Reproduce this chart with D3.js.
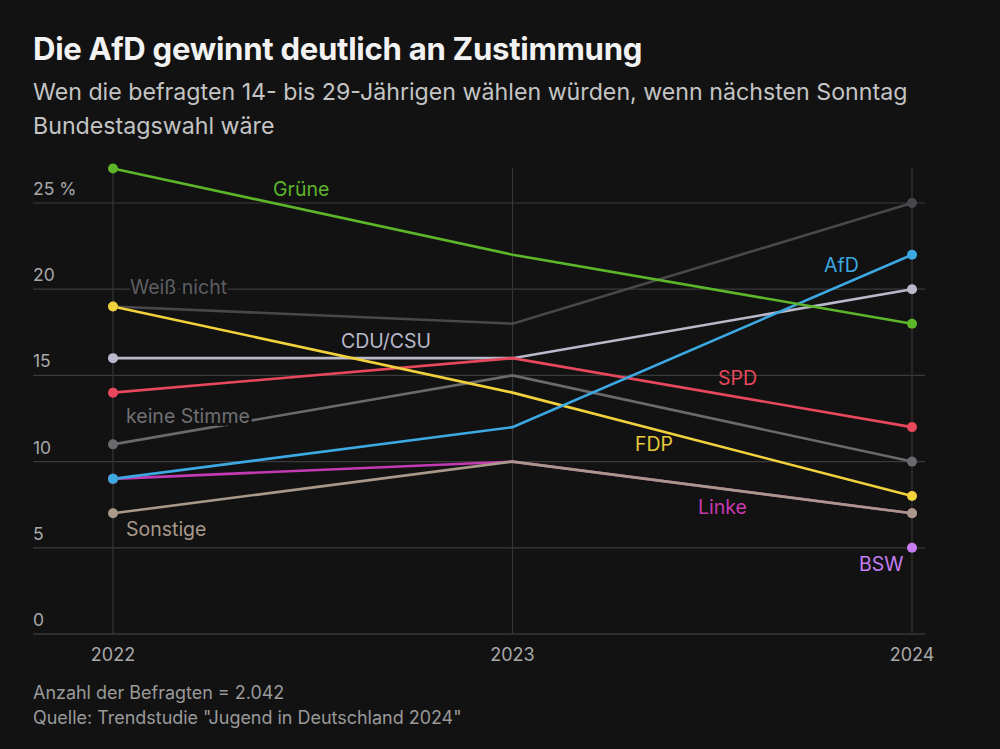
<!DOCTYPE html>
<html><head><meta charset="utf-8">
<script src="https://cdn.jsdelivr.net/npm/d3@7"></script>
<style>
html,body{margin:0;padding:0;background:#121212;}
svg{display:block;}
text{font-family:Inter,"Noto Sans",sans-serif;}
</style></head>
<body>
<svg id="c" width="1000" height="749"></svg>
<script>
const years = ["2022","2023","2024"];
const yTicks = [0,5,10,15,20,25];
const parties = ["Weiß nicht","keine Stimme","Linke","Sonstige","CDU/CSU","SPD","FDP","AfD","Grüne","BSW"];
const weissNicht = [19,18,25];
const keineStimme = [11,15,10];
const linke = [9,10,7];
const sonstige = [7,10,7];
const cduCsu = [16,16,20];
const spd = [14,16,12];
const fdp = [19,14,8];
const afd = [9,12,22];
const gruene = [27,22,18];
const bsw = [null,null,5];
const colors = ["#48484c","#6a6a6e","#c23ab4","#a8998a","#b9b9cb","#e8485c","#f2d23c","#3ca9e2","#5db52a","#c77df2"];
const labelColors = ["#5e5e62","#707074","#c83aae","#a8998a","#b9b9cb","#e8485c","#e8c83a","#3ca9e2","#5db52a","#c77df2"];
const title = "Die AfD gewinnt deutlich an Zustimmung";
const subtitle = ["Wen die befragten 14- bis 29-Jährigen wählen würden, wenn nächsten Sonntag","Bundestagswahl wäre"];
const footer = ["Anzahl der Befragten = 2.042","Quelle: Trendstudie \"Jugend in Deutschland 2024\""];

const values = [weissNicht,keineStimme,linke,sonstige,cduCsu,spd,fdp,afd,gruene,bsw];
const bg = "#121212";
const svg = d3.select("#c");
svg.append("rect").attr("width",1000).attr("height",749).attr("fill",bg);

const x = d3.scalePoint().domain(years).range([113,912]);
const y = d3.scaleLinear().domain([0,25]).range([634,203]);

function fit(sel, w){ const n=sel.node(); const l=n.getComputedTextLength(); let fs=parseFloat(sel.attr("font-size")); if(l>0){ fs=fs*w/l; sel.attr("font-size", fs);} return fs; }

const t = svg.append("text").attr("x",33).attr("y",60).attr("font-size",26).attr("font-weight",700).attr("fill","#f2f2f2").attr("letter-spacing",-0.3).text(title);
fit(t,607);
let subFs = 21;
subtitle.forEach((s,i)=>{
  const st = svg.append("text").attr("x",33).attr("y",100+i*34).attr("font-size",subFs).attr("fill","#c4c4c4").text(s);
  if(i===0) subFs = fit(st,875);
});

// grid
const g = svg.append("g");
g.selectAll("line.h").data(yTicks).join("line")
 .attr("x1",33).attr("x2",925).attr("y1",d=>y(d)).attr("y2",d=>y(d))
 .attr("stroke",d=>d===0?"#4a4a4a":"#3a3a3a").attr("stroke-width",1.2);
g.selectAll("line.v").data(years).join("line")
 .attr("x1",d=>x(d)).attr("x2",d=>x(d)).attr("y1",168).attr("y2",634)
 .attr("stroke","#363636").attr("stroke-width",1.2);
g.selectAll("text.yt").data(yTicks).join("text")
 .attr("x",33).attr("y",d=>y(d)-8).attr("font-size",17.5).attr("fill","#a8a8a8")
 .text(d=>d===25?"25 %":d);
g.selectAll("text.xt").data(years).join("text")
 .attr("x",d=>x(d)).attr("y",661).attr("text-anchor","middle").attr("font-size",18).attr("fill","#a8a8a8")
 .text(d=>d);

const series = parties.map((p,i)=>({name:p,color:colors[i],pts:years.map((yr,j)=>({yr,v:values[i][j]})).filter(d=>d.v!==null)}));
const line = d3.line().x(d=>x(d.yr)).y(d=>y(d.v));

const labelPos = {"Grüne":[273,196],"Weiß nicht":[130,294],"CDU/CSU":[341,348],"AfD":[824,272],"SPD":[718,385],"FDP":[635,451],"Linke":[698,514],"BSW":[859,571],"keine Stimme":[126,423],"Sonstige":[126,536]};
const labFs = 19.5;

const sg = svg.append("g");
series.forEach((s,i)=>{
  sg.append("path").attr("d",line(s.pts)).attr("fill","none").attr("stroke",s.color).attr("stroke-width",2.6);
});
series.forEach((s,i)=>{
  const [lx,ly] = labelPos[s.name];
  if(s.name==="Weiß nicht"||s.name==="keine Stimme"){
    sg.append("text").attr("x",lx).attr("y",ly).attr("font-size",labFs).attr("fill",labelColors[i])
      .attr("stroke",bg).attr("stroke-width",6).attr("paint-order","stroke").attr("stroke-linejoin","round").text(s.name);
  }
});
// dots only at first and last year
series.forEach((s,i)=>{
  sg.selectAll(null).data(s.pts.filter(d=>d.yr!=="2023")).join("circle").attr("cx",d=>x(d.yr)).attr("cy",d=>y(d.v)).attr("r",5).attr("fill",s.color);
});
series.forEach((s,i)=>{
  const [lx,ly] = labelPos[s.name];
  if(!(s.name==="Weiß nicht"||s.name==="keine Stimme")){
    sg.append("text").attr("x",lx).attr("y",ly).attr("font-size",labFs).attr("fill",labelColors[i]).text(s.name);
  }
});

let footFs = 17;
const f2 = svg.append("text").attr("x",33).attr("y",724).attr("font-size",footFs).attr("fill","#9a9a9a").text(footer[1]);
footFs = fit(f2,429);
svg.append("text").attr("x",33).attr("y",699).attr("font-size",footFs).attr("fill","#9a9a9a").text(footer[0]);
</script>
</body></html>
